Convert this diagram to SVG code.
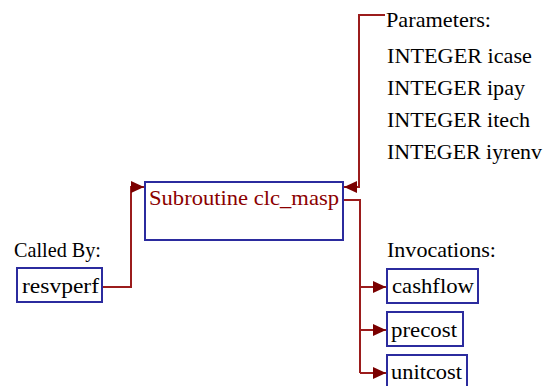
<svg xmlns="http://www.w3.org/2000/svg" width="545" height="386" viewBox="0 0 545 386">
<defs>
<style>
text{font-family:"Liberation Serif","Times New Roman",serif;font-size:21px;fill:#000}
.box{fill:#fff;stroke:#2b2b9e;stroke-width:2}
.main{fill:#8b0000}
.conn{fill:none;stroke:#9b1c1c;stroke-width:2}
</style>
<marker id="ah" viewBox="0 0 13 12" refX="13" refY="6" markerWidth="13" markerHeight="12" markerUnits="userSpaceOnUse" orient="auto">
<path d="M0,0 L13,6 L0,12 Z" fill="#7a0000"/>
</marker>
</defs>
<rect width="545" height="386" fill="#fff"/>
<g id="connectors">
<path class="conn" d="M102,287 H131 V187 H144" marker-end="url(#ah)"/>
<path class="conn" d="M385,15 H359 V187 H344" marker-end="url(#ah)"/>
<path class="conn" d="M343,200 H360 V373"/>
<path class="conn" d="M360,287 H386" marker-end="url(#ah)"/>
<path class="conn" d="M360,330 H386" marker-end="url(#ah)"/>
<path class="conn" d="M360,373 H386" marker-end="url(#ah)"/>
</g>
<g id="main">
<rect class="box" x="145" y="182" width="198" height="58"/>
<text class="main" x="149" y="205" textLength="190" lengthAdjust="spacingAndGlyphs">Subroutine clc_masp</text>
</g>
<g id="params">
<text x="386" y="27" textLength="105" lengthAdjust="spacingAndGlyphs">Parameters:</text>
<text x="387" y="63" textLength="145" lengthAdjust="spacingAndGlyphs">INTEGER icase</text>
<text x="387" y="95" textLength="138" lengthAdjust="spacingAndGlyphs">INTEGER ipay</text>
<text x="387" y="127" textLength="143" lengthAdjust="spacingAndGlyphs">INTEGER itech</text>
<text x="387" y="159" textLength="155" lengthAdjust="spacingAndGlyphs">INTEGER iyrenv</text>
</g>
<g id="calledby">
<text x="14" y="257" textLength="87" lengthAdjust="spacingAndGlyphs">Called By:</text>
</g>
<g id="resvperf">
<rect class="box" x="17" y="268" width="85" height="34"/>
<text x="22" y="293" textLength="77" lengthAdjust="spacingAndGlyphs">resvperf</text>
</g>
<g id="invocations">
<text x="387" y="257" textLength="109" lengthAdjust="spacingAndGlyphs">Invocations:</text>
</g>
<g id="cashflow">
<rect class="box" x="387" y="269" width="91" height="34"/>
<text x="392" y="293" textLength="82" lengthAdjust="spacingAndGlyphs">cashflow</text>
</g>
<g id="precost">
<rect class="box" x="387" y="312" width="76" height="34"/>
<text x="391" y="337" textLength="66" lengthAdjust="spacingAndGlyphs">precost</text>
</g>
<g id="unitcost">
<rect class="box" x="387" y="355" width="80" height="34"/>
<text x="391" y="379" textLength="71" lengthAdjust="spacingAndGlyphs">unitcost</text>
</g>
</svg>
